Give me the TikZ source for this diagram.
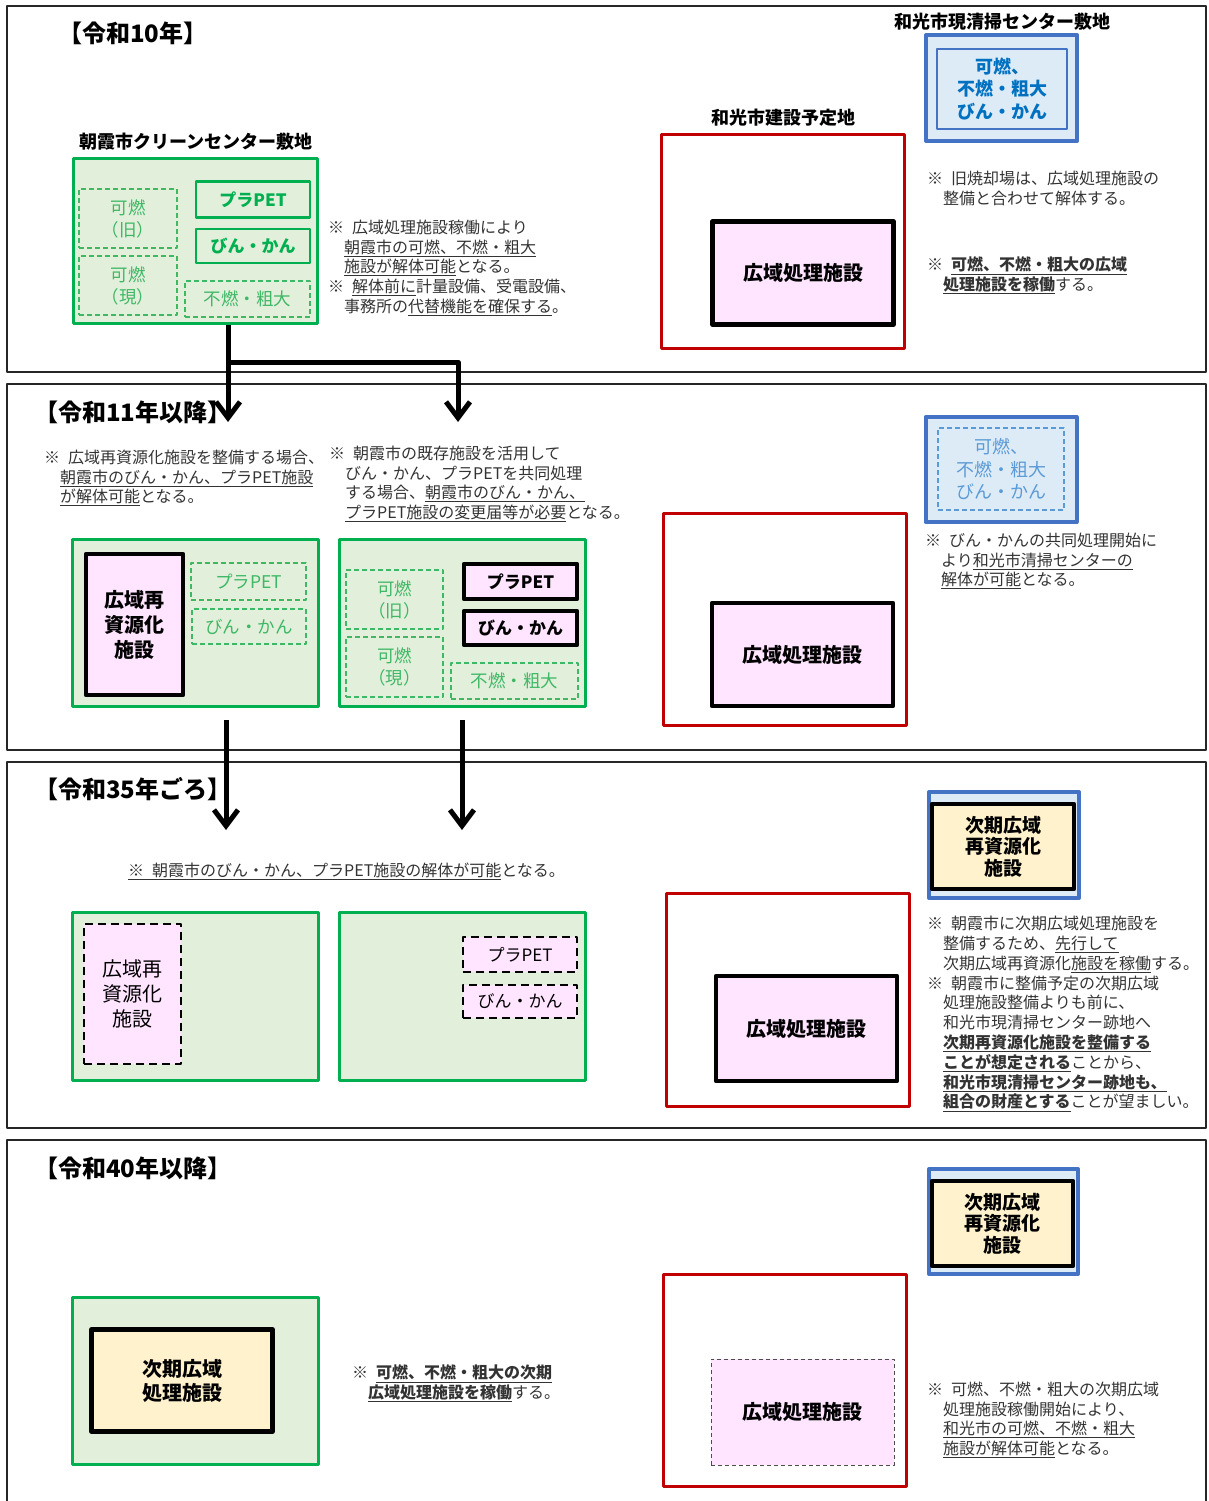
\documentclass[tikz,border=0pt]{standalone}
\usepackage{fontspec}
\setmainfont{Noto Sans CJK JP}
\usetikzlibrary{arrows.meta}
\definecolor{sitegreen}{HTML}{00B050}
\definecolor{sitefill}{HTML}{E2EFDA}
\definecolor{oldgreen}{HTML}{3FB866}
\definecolor{wakored}{HTML}{C00000}
\definecolor{wakoblue}{HTML}{4472C4}
\definecolor{bluefill}{HTML}{DDEBF7}
\definecolor{bluetext}{HTML}{0070C0}
\definecolor{paleblue}{HTML}{5B9BD5}
\definecolor{pinkfill}{HTML}{FFE5FF}
\definecolor{yellowfill}{HTML}{FFF2CC}
\definecolor{notegray}{HTML}{333333}
\newcommand\kome{※\hspace{0.5em}}
\newcommand\ul[1]{\underline{#1}}
\newcommand\ulb[1]{\underline{\bfseries #1}}
\begin{document}
\begin{tikzpicture}[x=1pt,y=-1pt,line join=round,
	panel/.style={draw=black!85,line width=1.6pt},
	title/.style={anchor=west,inner sep=0pt,font=\bfseries\fontsize{24}{28}\selectfont},
	sitename/.style={inner sep=0pt,font=\bfseries\fontsize{18}{22}\selectfont},
	sz/.style 2 args={minimum width=#1pt,minimum height=#2pt,inner sep=0pt},
	site/.style={draw=sitegreen,fill=sitefill,line width=3pt},
	oldfac/.style={draw=oldgreen,line width=1.1pt,dash pattern=on 5pt off 3pt,text=oldgreen,align=center,font=\fontsize{17.5}{22}\selectfont},
	greenfac/.style={draw=sitegreen,line width=2.2pt,text=sitegreen,font=\bfseries\fontsize{17}{22}\selectfont},
	ourfac/.style={draw=black,line width=4.5pt,fill=pinkfill,align=center,font=\bfseries\fontsize{20}{25}\selectfont},
	smallfac/.style={draw=black,line width=4.5pt,fill=pinkfill,font=\bfseries\fontsize{17}{22}\selectfont},
	gonefac/.style={draw=black,line width=2pt,dash pattern=on 8pt off 5pt,fill=pinkfill,align=center,font=\fontsize{17}{22}\selectfont},
	closedfac/.style={draw=black!70,line width=1pt,dash pattern=on 4pt off 3pt,fill=pinkfill,font=\bfseries\fontsize{20}{25}\selectfont},
	nextfac/.style={draw=black,line width=4.5pt,fill=yellowfill,align=center,font=\bfseries\fontsize{19}{21.5}\selectfont},
	wakosite/.style={draw=wakored,line width=3pt},
	bluesite/.style={draw=wakoblue,fill=bluefill,line width=4pt},
	note/.style={anchor=north west,align=left,inner sep=0pt,text=notegray,font=\fontsize{16}{19.6}\selectfont},
	bigarrow/.style={line width=5pt,-{Straight Barb[length=16pt,width=24pt]}}]
	\useasboundingbox (0,0) rectangle (1208,1501);
	%%% panels
	\draw[panel] (7,6) rectangle (1206,372);
	\draw[panel] (7,384) rectangle (1206,750);
	\draw[panel] (7,762) rectangle (1206,1128);
	\draw[panel] (7,1505)--(7,1140)--(1206,1140)--(1206,1505);
	\node[title] (t10) at (58,33) {【令和10年】};
	\node[title] (t11) at (34,412) {【令和11年以降】};
	\node[title] (t35) at (34,789) {【令和35年ごろ】};
	\node[title] (t40) at (34,1168) {【令和40年以降】};
	%%% R10
	\node[sitename] (asakaname) at (196,142) {朝霞市クリーンセンター敷地};
	\node[site,sz={244}{165}] (asaka1) at (195.5,241) {};
	\node[oldfac,sz={98}{59}] (kanen1a) at (128,218.5) {可燃\\（旧）};
	\node[oldfac,sz={98}{59}] (kanen1b) at (128,285.5) {可燃\\（現）};
	\node[greenfac,sz={114}{36}] (pla1) at (253,199.5) {プラPET};
	\node[greenfac,sz={114}{34}] (bin1) at (253,246) {びん・かん};
	\node[oldfac,sz={125}{36}] (funen1) at (247.5,299) {不燃・粗大};
	\node[note] (note1a) at (328,220) {\kome 広域処理施設稼働により\\
		\hspace*{1em}\ul{朝霞市の可燃、不燃・粗大}\\
		\hspace*{1em}\ul{施設が解体可能}となる。\\
		\kome\ul{解体前に}計量設備、受電設備、\\
		\hspace*{1em}事務所の\ul{代替機能を確保する}。};
	\node[sitename] (wakoname) at (783,118) {和光市建設予定地};
	\node[wakosite,sz={243}{214}] (wako1) at (783,241.5) {};
	\node[ourfac,sz={181}{103}] (kouiki1) at (803,273) {広域処理施設};
	\node[sitename] (seisouname) at (1002,22) {和光市現清掃センター敷地};
	\node[bluesite,sz={151}{106}] (seisou1) at (1001.5,88) {};
	\node[draw=wakoblue,line width=1.5pt,fill=bluefill,sz={130}{80},text=bluetext,align=center,font=\bfseries\fontsize{18}{22.5}\selectfont] (seisouwork1) at (1002,89) {可燃、\\不燃・粗大\\びん・かん};
	\node[note] (note1b) at (927,171) {\kome 旧焼却場は、広域処理施設の\\
		\hspace*{1em}整備と合わせて解体する。};
	\node[note] (note1c) at (927,257) {\kome\ulb{可燃、不燃・粗大の広域}\\
		\hspace*{1em}\ulb{処理施設を稼働}する。};
	\coordinate (fork) at (228,362);
	\coordinate (tip11a) at (228,422);
	\coordinate (tip11b) at (458,422);
	%%% R11
	\node[site,sz={246}{167}] (asaka2a) at (195.5,623) {};
	\node[ourfac,sz={97}{141}] (saishigen2) at (134.5,624.5) {広域再\\資源化\\施設};
	\node[oldfac,sz={115}{37}] (pla2a) at (248.5,581.5) {プラPET};
	\node[oldfac,sz={114}{35}] (bin2a) at (249,626.5) {びん・かん};
	\node[site,sz={246}{167}] (asaka2b) at (462.5,623) {};
	\node[oldfac,sz={97}{59}] (kanen2a) at (394.5,599.5) {可燃\\（旧）};
	\node[oldfac,sz={97}{60}] (kanen2b) at (394.5,667) {可燃\\（現）};
	\node[smallfac,sz={113}{35}] (pla2b) at (520.5,581.5) {プラPET};
	\node[smallfac,sz={113}{34}] (bin2b) at (520.5,628) {びん・かん};
	\node[oldfac,sz={127}{36}] (funen2) at (514.5,681) {不燃・粗大};
	\node[note,font=\fontsize{16}{19.5}\selectfont] (note2a) at (44,450) {\kome 広域再資源化施設を整備する場合、\\
		\hspace*{1em}\ul{朝霞市のびん・かん、プラPET施設}\\
		\hspace*{1em}\ul{が解体可能}となる。};
	\node[note] (note2b) at (329,446) {\kome 朝霞市の既存施設を活用して\\
		\hspace*{1em}びん・かん、プラPETを共同処理\\
		\hspace*{1em}する場合、\ul{朝霞市のびん・かん、}\\
		\hspace*{1em}\ul{プラPET施設の変更届等が必要}となる。};
	\node[wakosite,sz={243}{212}] (wako2) at (785,619.5) {};
	\node[ourfac,sz={181}{103}] (kouiki2) at (802.5,654.5) {広域処理施設};
	\node[bluesite,sz={151}{105}] (seisou2) at (1001,469.5) {};
	\node[draw=paleblue,line width=1.2pt,dash pattern=on 5pt off 3pt,sz={126}{82},text=paleblue,align=center,font=\fontsize{18}{22.5}\selectfont] (seisouwork2) at (1001,469) {可燃、\\不燃・粗大\\びん・かん};
	\node[note] (note2c) at (925,533) {\kome びん・かんの共同処理開始に\\
		\hspace*{1em}より\ul{和光市清掃センターの}\\
		\hspace*{1em}\ul{解体が可能}となる。};
	\coordinate (tip35a) at (226,830);
	\coordinate (tip35b) at (462,830);
	%%% R35
	\node[note] (note3a) at (128,863) {\ul{\kome 朝霞市のびん・かん、プラPET施設の解体が可能}となる。};
	\node[site,sz={246}{168}] (asaka3a) at (195.5,996.5) {};
	\node[gonefac,sz={97}{140},font=\fontsize{20}{25}\selectfont] (saishigen3) at (132.5,994) {広域再\\資源化\\施設};
	\node[site,sz={246}{168}] (asaka3b) at (462.5,996.5) {};
	\node[gonefac,sz={114}{35}] (pla3) at (520,954.5) {プラPET};
	\node[gonefac,sz={114}{33}] (bin3) at (520,1001.5) {びん・かん};
	\node[wakosite,sz={243}{213}] (wako3) at (787.5,1000) {};
	\node[ourfac,sz={181}{105}] (kouiki3) at (806.5,1028.5) {広域処理施設};
	\node[bluesite,sz={150}{106}] (seisou3) at (1004,845) {};
	\node[nextfac,sz={142}{85}] (jiki3) at (1003,846.5) {次期広域\\再資源化\\施設};
	\node[note,font=\fontsize{16}{19.8}\selectfont] (note3b) at (927,916) {\kome 朝霞市に次期広域処理施設を\\
		\hspace*{1em}整備するため、\ul{先行して}\\
		\hspace*{1em}次期広域再資源化\ul{施設を稼働}する。\\
		\kome 朝霞市に整備予定の次期広域\\
		\hspace*{1em}処理施設整備よりも前に、\\
		\hspace*{1em}和光市現清掃センター跡地へ\\
		\hspace*{1em}\ulb{次期再資源化施設を整備する}\\
		\hspace*{1em}\ulb{ことが想定される}ことから、\\
		\hspace*{1em}\ulb{和光市現清掃センター跡地も、}\\
		\hspace*{1em}\ulb{組合の財産とする}ことが望ましい。};
	%%% R40
	\node[site,sz={246}{167}] (asaka4) at (195.5,1380.5) {};
	\node[nextfac,sz={181}{102},font=\bfseries\fontsize{20}{24}\selectfont] (jiki4) at (182,1380.5) {次期広域\\処理施設};
	\node[note] (note4a) at (352,1365) {\kome\ulb{可燃、不燃・粗大の次期}\\
		\hspace*{1em}\ulb{広域処理施設を稼働}する。};
	\node[wakosite,sz={243}{212}] (wako4) at (785,1380.5) {};
	\node[closedfac,sz={183}{106}] (kouiki4) at (802.5,1412) {広域処理施設};
	\node[bluesite,sz={149}{105}] (seisou4) at (1003.5,1221.5) {};
	\node[nextfac,sz={141}{85}] (jiki4b) at (1002.5,1223.5) {次期広域\\再資源化\\施設};
	\node[note] (note4b) at (927,1382) {\kome 可燃、不燃・粗大の次期広域\\
		\hspace*{1em}処理施設稼働開始により、\\
		\hspace*{1em}\ul{和光市の可燃、不燃・粗大}\\
		\hspace*{1em}\ul{施設が解体可能}となる。};
	%%% arrows
	\draw[bigarrow] (asaka1.south -| tip11a)--(tip11a);
	\draw[bigarrow] (fork) -| (tip11b);
	\draw[bigarrow] ([yshift=-12pt]asaka2a.south -| tip35a)--(tip35a);
	\draw[bigarrow] ([yshift=-12pt]asaka2b.south -| tip35b)--(tip35b);
\end{tikzpicture}
\end{document}
